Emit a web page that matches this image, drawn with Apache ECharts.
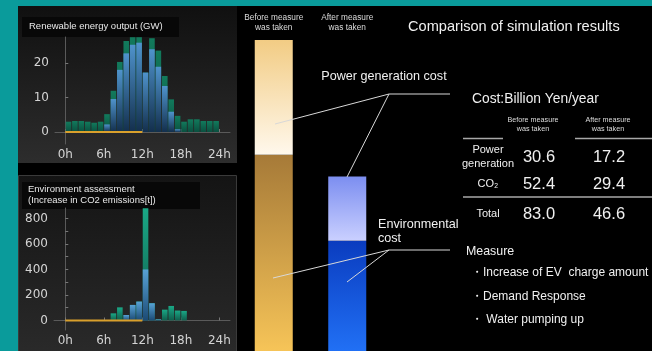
<!DOCTYPE html>
<html><head><meta charset="utf-8">
<script src="https://cdn.jsdelivr.net/npm/echarts@6/dist/echarts.min.js"></script>
<style>html,body{margin:0;padding:0;background:#000;}#c{width:652px;height:351px;}</style>
</head><body><div id="c"></div>
<script>
// ---------- data ----------
const hourTicks = [0, 6, 12, 18, 24];
const hourLabels = ['0h', '6h', '12h', '18h', '24h'];
// Renewable energy output (GW), per hour 0..23
const reUsed    = [0, 0, 0, 0, 0, 0, 2.2, 9.6, 18.1, 22.9, 25.4, 26.0, 17.3, 24.1, 19.0, 13.4, 5.9, 0.8, 0, 0, 0, 0, 0, 0];
const reSurplus = [3.0, 3.2, 3.2, 3.0, 2.7, 3.0, 3.0, 2.4, 2.3, 3.6, 2.2, 1.6, 0, 3.2, 4.7, 2.9, 3.6, 3.9, 3.0, 3.7, 3.7, 3.2, 3.2, 3.2];
const reTicks = [0, 10, 20];
// Environment assessment: increase in CO2 emissions [t]
const co2Blue  = [0, 0, 0, 0, 0, 0, 0, 0, 0, 43, 122, 148, 400, 135, 8, 0, 0, 0, 0, 0, 0, 0, 0, 0];
const co2Green = [0, 0, 0, 0, 0, 0, 0, 56, 103, 0, 0, 0, 480, 0, 0, 85, 114, 78, 75, 0, 0, 0, 0, 0];
const co2Ticks = [0, 200, 400, 600, 800];
const co2MinorTicks = [0, 100, 200, 300, 400, 500, 600, 700, 800];
const refLineHours = [0, 12];
const refLineValues = [0, 0];
// Cost comparison (Billion Yen/year)
const barCats = ['Before measure\nwas taken', 'After measure\nwas taken'];
const powerCost = [30.6, 17.2];
const envCost = [52.4, 29.4];
const tableRows = ['Power\ngeneration', 'CO\u2082', 'Total'];
const tableBefore = [30.6, 52.4, 83.0];
const tableAfter = [17.2, 29.4, 46.6];
const measures = ['\u30FBIncrease of EV  charge amount', '\u30FBDemand Response', '\u30FB Water pumping up'];

// ---------- styles ----------
const NARROW = "'Liberation Sans',sans-serif";
const AXISF = "'DejaVu Sans',sans-serif";
const G = echarts.graphic;
const grad = (a, b) => new G.LinearGradient(0, 0, 0, 1, [{offset: 0, color: a}, {offset: 1, color: b}]);
const blueGrad = grad('#4f93cc', '#132f4d');
const greenGrad = grad('#127a5c', '#0a5040');
const tallGreen = grad('#1aa886', '#0f5e4c');
const blueGrad2 = grad('#58a2d6', '#1b4a74');

const chart = echarts.init(document.getElementById('c'), null, {renderer: 'canvas'});

function hourAxis(gi, min, max) {
  return {
    gridIndex: gi, type: 'value', min: min, max: max,
    axisLine: {show: true, lineStyle: {color: '#5a5a5a', width: 1}},
    axisTick: {show: true, inside: true, length: 3, customValues: hourTicks, lineStyle: {color: '#777'}},
    axisLabel: {show: true, customValues: hourTicks, color: '#d4d4d4', fontSize: 12, fontFamily: AXISF, margin: 5,
      formatter: v => hourLabels[hourTicks.indexOf(v)]},
    splitLine: {show: false}
  };
}
function valAxis(gi, min, max, labs, ticks) {
  return {
    gridIndex: gi, type: 'value', min: min, max: max,
    axisLine: {show: true, lineStyle: {color: '#5a5a5a', width: 1}},
    axisTick: {show: true, inside: true, length: 3, customValues: ticks, lineStyle: {color: '#777'}},
    axisLabel: {show: true, customValues: labs, color: '#d4d4d4', fontSize: 12, fontFamily: AXISF, margin: 6},
    splitLine: {show: false}
  };
}
const pts = arr => arr.map((v, i) => [i + 0.5, v]);
// stacked tops (surplus sits on top of used): draw totals underneath, used in front
const stackTop = (a, b) => a.map((v, i) => [i + 0.5, v + b[i]]);
const refLine = refLineHours.map((h, i) => [h, refLineValues[i]]);

const txt = (text, x, y, size, opt) => Object.assign({
  type: 'text', x: x, y: y, z: 100,
  style: Object.assign({text: text, fill: '#f0f0f0', fontSize: size, fontFamily: NARROW,
    align: 'left', verticalAlign: 'middle'}, (opt && opt.style) || {})
}, opt && opt.el || {});
const line = (x1, y1, x2, y2, c, w) => ({type: 'line', z: 90, shape: {x1, y1, x2, y2},
  style: {stroke: c || '#d8d8d8', lineWidth: w || 1}});

const elements = [
  {type: 'rect', z: -10, shape: {x: 0, y: 0, width: 652, height: 351}, style: {fill: '#000'}},
  {type: 'rect', z: -9, shape: {x: 0, y: 0, width: 18, height: 351}, style: {fill: '#0a9b9b'}},
  {type: 'rect', z: -9, shape: {x: 0, y: 0, width: 652, height: 6}, style: {fill: '#0a9b9b'}},
  {type: 'rect', z: -8, shape: {x: 18, y: 6, width: 219, height: 157}, style: {fill: grad('#101010', '#2d2d2d')}},
  {type: 'rect', z: -7, shape: {x: 22, y: 17, width: 157, height: 20}, style: {fill: '#080808'}},
  {type: 'rect', z: -8, shape: {x: 18.5, y: 175.5, width: 218, height: 180}, style: {fill: grad('#141414', '#2a2a2a'), stroke: '#3a3a3a', lineWidth: 1}},
  {type: 'rect', z: -7, shape: {x: 22, y: 182, width: 178, height: 27}, style: {fill: '#080808'}},
  txt('Renewable energy output (GW)', 29, 26, 9.5, {style: {fill: '#e8e8e8'}}),
  txt('Environment assessment\n(Increase in CO2 emissions[t])', 28, 195, 9.5, {style: {fill: '#e8e8e8', lineHeight: 11}}),
  txt('Comparison of simulation results', 408, 27, 14.6),
  txt('Power generation cost', 384, 77, 12.6, {style: {align: 'center'}}),
  txt('Environmental\ncost', 378, 232, 12.6, {style: {lineHeight: 14}}),
  line(389, 94, 450, 94), line(389, 94, 275, 124), line(389, 94, 347, 177),
  line(389, 250, 450, 250), line(389, 250, 273, 278), line(389, 250, 347, 282),
  txt('Cost:Billion Yen/year', 472, 99, 13.8),
  txt('Before measure\nwas taken', 533, 125, 7.2, {style: {align: 'center', lineHeight: 9, fill: '#dcdcdc'}}),
  txt('After measure\nwas taken', 608, 125, 7.2, {style: {align: 'center', lineHeight: 9, fill: '#dcdcdc'}}),
  line(463, 138.5, 503, 138.5, '#a8a8a8', 1.5), line(575, 138.5, 652, 138.5, '#a8a8a8', 1.5),
  line(463, 197, 652, 197, '#a8a8a8', 1.5),
  txt('Measure', 466, 252, 12.4)
];
const rowY = [157, 184, 214];
tableRows.forEach((r, i) => {
  elements.push(txt(r, 488, rowY[i], 11, {style: {align: 'center', lineHeight: 14}}));
  elements.push(txt(tableBefore[i].toFixed(1), 539, rowY[i], 16.5, {style: {align: 'center'}}));
  elements.push(txt(tableAfter[i].toFixed(1), 609, rowY[i], 16.5, {style: {align: 'center'}}));
});
const measureY = [273, 297, 320];
measures.forEach((m, i) => elements.push(txt(m, 471, measureY[i], 12)));

const beforeCols = [grad('#f2cc84', '#fff8ec'), grad('#a67a38', '#f6c458')];
const afterCols = [grad('#7c8ef0', '#cad0ff'), grad('#0a3cbf', '#2170f5')];

chart.setOption({
  backgroundColor: '#000',
  animation: false,
  grid: [
    {left: 55, top: 37, width: 175, height: 107, containLabel: false, outerBoundsMode: 'none'},
    {left: 54, top: 208, width: 176, height: 122, containLabel: false, outerBoundsMode: 'none'},
    {left: 237, top: 40, width: 147, height: 311, containLabel: false, outerBoundsMode: 'none'}
  ],
  xAxis: [
    hourAxis(0, -1.6, 25.66),
    hourAxis(1, -1.76, 25.66),
    {gridIndex: 2, type: 'category', data: barCats, position: 'top',
      axisLine: {show: false}, axisTick: {show: false},
      axisLabel: {margin: 7, fontSize: 8.3, lineHeight: 10, color: '#dcdcdc', fontFamily: NARROW, interval: 0}}
  ],
  yAxis: [
    valAxis(0, -3.49, 27.66, reTicks, reTicks),
    valAxis(1, -74.5, 882, co2Ticks, co2MinorTicks),
    {gridIndex: 2, type: 'value', min: 0, max: powerCost[0] + envCost[0], show: false}
  ],
  graphic: {elements: elements},
  series: [
    {name: 'Surplus', type: 'bar', xAxisIndex: 0, yAxisIndex: 0, barWidth: 5.6, barGap: '-100%', z: 2,
      data: stackTop(reUsed, reSurplus), itemStyle: {color: greenGrad}},
    {name: 'Used', type: 'bar', xAxisIndex: 0, yAxisIndex: 0, barWidth: 5.6, barGap: '-100%', z: 3,
      data: pts(reUsed), itemStyle: {color: blueGrad}},
    {name: 'Ref', type: 'line', xAxisIndex: 0, yAxisIndex: 0, data: refLine, symbol: 'none', z: 5,
      lineStyle: {color: '#d9a02c', width: 2}},
    {name: 'CO2 green', type: 'bar', xAxisIndex: 1, yAxisIndex: 1, barWidth: 5.6, barGap: '-100%', z: 2,
      data: stackTop(co2Blue, co2Green), itemStyle: {color: tallGreen}},
    {name: 'CO2 blue', type: 'bar', xAxisIndex: 1, yAxisIndex: 1, barWidth: 5.6, barGap: '-100%', z: 3,
      data: pts(co2Blue), itemStyle: {color: blueGrad2}},
    {name: 'Ref2', type: 'line', xAxisIndex: 1, yAxisIndex: 1, data: refLine, symbol: 'none', z: 5,
      lineStyle: {color: '#d9a02c', width: 2}},
    {name: 'Environmental cost', type: 'bar', xAxisIndex: 2, yAxisIndex: 2, stack: 'cost', barWidth: 38,
      data: envCost.map((v, i) => ({value: v, itemStyle: {color: i === 0 ? beforeCols[1] : afterCols[1]}}))},
    {name: 'Power generation cost', type: 'bar', xAxisIndex: 2, yAxisIndex: 2, stack: 'cost', barWidth: 38,
      data: powerCost.map((v, i) => ({value: v, itemStyle: {color: i === 0 ? beforeCols[0] : afterCols[0]}}))}
  ]
});
</script></body></html>
